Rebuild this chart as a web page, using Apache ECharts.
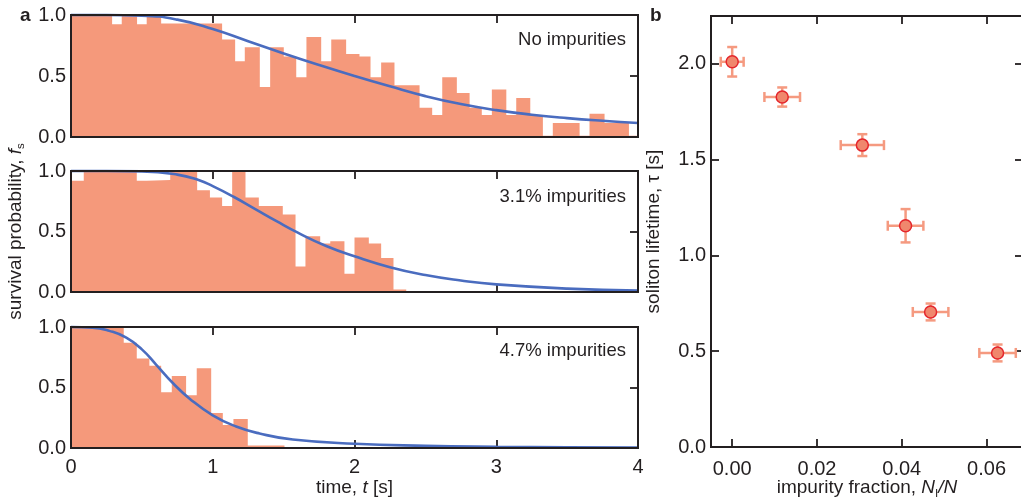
<!DOCTYPE html>
<html><head><meta charset="utf-8">
<script src="https://cdn.jsdelivr.net/npm/echarts@6/dist/echarts.min.js"></script>
<style>html,body{margin:0;padding:0;background:#fff}#c{width:1021px;height:500px}</style>
</head><body><div id="c"></div>
<script>
// ---------- Panel a : survival histograms (bin start times, heights, end time) ----------
const binStart1 = [0, 0.29, 0.358, 0.466, 0.534, 0.636, 1.066, 1.158, 1.226, 1.332, 1.405, 1.501, 1.589, 1.661, 1.765, 1.836, 1.941, 2.035, 2.113, 2.188, 2.282, 2.459, 2.548, 2.619, 2.722, 2.812, 2.898, 2.969, 3.071, 3.141, 3.240, 3.329, 3.399, 3.588, 3.658, 3.764, 3.936];
const binHeight1 = [1.0, 0.924, 1.0, 0.924, 0.99, 0.93, 0.80, 0.62, 0.735, 0.41, 0.735, 0.66, 0.49, 0.82, 0.62, 0.80, 0.68, 0.66, 0.49, 0.61, 0.425, 0.24, 0.18, 0.49, 0.36, 0.24, 0.18, 0.39, 0.18, 0.32, 0.18, 0.01, 0.115, 0.01, 0.19, 0.115, 0.01];
const binEnd1 = 4.0;

const binStart2 = [0, 0.09, 0.464, 0.534, 0.70, 0.89, 0.98, 1.066, 1.137, 1.231, 1.325, 1.494, 1.584, 1.654, 1.758, 1.829, 1.929, 2.0, 2.101, 2.188, 2.275];
const binHeight2 = [0.92, 1.0, 0.92, 0.925, 1.0, 0.84, 0.78, 0.71, 1.0, 0.78, 0.71, 0.64, 0.21, 0.46, 0.40, 0.42, 0.15, 0.45, 0.40, 0.28, 0.02];
const binEnd2 = 2.365;

const binStart3 = [0, 0.372, 0.464, 0.553, 0.636, 0.711, 0.812, 0.887, 0.989, 1.071, 1.146, 1.247];
const binHeight3 = [1.0, 0.87, 0.74, 0.68, 0.46, 0.595, 0.435, 0.66, 0.29, 0.19, 0.24, 0.02];
const binEnd3 = 1.506;

// ---------- Panel a : fitted survival curves ----------
const fitT1 = [0, 0.25, 0.5, 0.75, 1.0, 1.25, 1.5, 1.75, 2.0, 2.25, 2.5, 2.75, 3.0, 3.25, 3.5, 3.75, 4.0];
const fitF1 = [1.0, 1.0, 0.995, 0.962, 0.885, 0.785, 0.685, 0.59, 0.50, 0.415, 0.335, 0.27, 0.22, 0.183, 0.155, 0.133, 0.115];
const fitT2 = [0, 0.25, 0.5, 0.75, 0.9, 1.0, 1.15, 1.3, 1.45, 1.6, 1.8, 2.0, 2.25, 2.5, 2.75, 3.0, 3.5, 4.0];
const fitF2 = [1.0, 1.0, 0.997, 0.97, 0.925, 0.875, 0.785, 0.685, 0.585, 0.49, 0.38, 0.295, 0.205, 0.14, 0.095, 0.063, 0.028, 0.012];
const fitT3 = [0, 0.15, 0.27, 0.39, 0.5, 0.6, 0.72, 0.835, 1.0, 1.165, 1.33, 1.565, 2.0, 2.5, 3.0, 3.5, 4.0];
const fitF3 = [1.0, 0.995, 0.968, 0.912, 0.815, 0.69, 0.535, 0.41, 0.27, 0.178, 0.12, 0.07, 0.035, 0.018, 0.01, 0.006, 0.004];

const panelLabels = ['No impurities', '3.1% impurities', '4.7% impurities'];
const timeTicks = [0, 1, 2, 3, 4];

// ---------- Panel b : soliton lifetime vs impurity fraction ----------
const fraction = [0.0, 0.0118, 0.0307, 0.0409, 0.0468, 0.0626];
const fractionErr = [0.0027, 0.0042, 0.0051, 0.0042, 0.0042, 0.0043];
const lifetime = [2.011, 1.827, 1.576, 1.155, 0.705, 0.491];
const lifetimeErr = [0.077, 0.05, 0.057, 0.087, 0.044, 0.044];

// ---------- styling ----------
const FONT = '"Liberation Sans", Arial, Helvetica, sans-serif';
const INK = '#231f20';
const BAR = '#f5997b';
const FIT = '#4a6cbf';
const ERR = '#f59a80';

function stepData(starts, heights, end) {
  const d = starts.map((t, i) => [t, heights[i]]);
  d.push([end, heights[heights.length - 1]]);
  return d;
}
function pairs(xs, ys) { return xs.map((x, i) => [x, ys[i]]); }

const nameRich = {
  n: { fontFamily: FONT, fontSize: 19, color: INK, lineHeight: 24 },
  i: { fontFamily: FONT, fontSize: 19, color: INK, fontStyle: 'italic', lineHeight: 24 },
  s: { fontFamily: FONT, fontSize: 11.5, color: INK, lineHeight: 11, verticalAlign: 'bottom' }
};
const tick = { show: true, inside: true, length: 8, lineStyle: { color: INK, width: 1.8 } };
const lab = { color: INK, fontFamily: FONT, fontSize: 20 };
const noLine = { show: false, onZero: false };

const grids = [
  { left: 71, top: 15, width: 567, height: 122 },
  { left: 71, top: 171, width: 567, height: 121 },
  { left: 71, top: 327, width: 567, height: 121 },
  { left: 711, top: 16, width: 312, height: 431 }
].map(g => Object.assign(g, { show: true, borderColor: INK, borderWidth: 2, backgroundColor: 'transparent',
  z: 10, containLabel: false, outerBoundsMode: 'none' }));

const xAxes = [], yAxes = [];
for (let i = 0; i < 3; i++) {
  const base = { gridIndex: i, type: 'value', min: timeTicks[0], max: timeTicks[timeTicks.length - 1], interval: 1,
    axisLine: noLine, axisTick: tick, splitLine: { show: false } };
  xAxes.push(Object.assign({}, base, {
    position: 'bottom',
    axisLabel: i === 2 ? Object.assign({ margin: 9, formatter: v => String(v) }, lab) : { show: false },
    name: i === 2 ? '{n|time, }{i|t}{n| [s]}' : '', nameLocation: 'middle', nameGap: 28,
    nameTextStyle: { rich: nameRich }
  }));
  xAxes.push(Object.assign({}, base, { position: 'top', axisLabel: { show: false } }));
  const ybase = { gridIndex: i, type: 'value', min: 0, max: 1, interval: 0.5,
    axisLine: noLine, axisTick: tick, splitLine: { show: false } };
  yAxes.push(Object.assign({}, ybase, {
    position: 'left',
    axisLabel: Object.assign({ margin: 5, formatter: v => v.toFixed(1) }, lab),
    name: i === 1 ? '{n|survival probability, }{i|f}{s|s}' : '', nameLocation: 'middle', nameGap: 43,
    nameTextStyle: { rich: nameRich }
  }));
  yAxes.push(Object.assign({}, ybase, { position: 'right', axisLabel: { show: false } }));
}
// panel b axes
const bx = { gridIndex: 3, type: 'value', min: -0.005, max: 0.0686, splitNumber: 4,
  axisLine: noLine, axisTick: tick, splitLine: { show: false } };
xAxes.push(Object.assign({}, bx, {
  position: 'bottom',
  axisLabel: Object.assign({ margin: 12, showMinLabel: false, showMaxLabel: false,
    formatter: v => (Math.abs(v / 0.02 - Math.round(v / 0.02)) < 1e-6 ? v.toFixed(2) : '') }, lab),
  name: '{n|impurity fraction, }{i|N}{s|I}{i|/N}', nameLocation: 'middle', nameGap: 29,
  nameMoveOverlap: false,
  nameTextStyle: { rich: nameRich }
}));
xAxes.push(Object.assign({}, bx, { position: 'top', axisLabel: { show: false } }));
const by = { gridIndex: 3, type: 'value', min: 0, max: 2.25, interval: 0.5,
  axisLine: noLine, axisTick: tick, splitLine: { show: false } };
yAxes.push(Object.assign({}, by, {
  position: 'left',
  axisLabel: Object.assign({ margin: 5, showMaxLabel: false,
    formatter: v => (Math.abs(v / 0.5 - Math.round(v / 0.5)) < 1e-6 ? v.toFixed(1) : '') }, lab),
  name: '{n|soliton lifetime, τ [s]}', nameLocation: 'middle', nameGap: 45,
  nameTextStyle: { rich: nameRich }
}));
yAxes.push(Object.assign({}, by, { position: 'right', axisLabel: { show: false } }));

const series = [];
const bins = [[binStart1, binHeight1, binEnd1], [binStart2, binHeight2, binEnd2], [binStart3, binHeight3, binEnd3]];
const fits = [[fitT1, fitF1], [fitT2, fitF2], [fitT3, fitF3]];
for (let i = 0; i < 3; i++) {
  series.push({ type: 'line', xAxisIndex: 2 * i, yAxisIndex: 2 * i, data: stepData(...bins[i]),
    step: 'end', symbol: 'none', lineStyle: { width: 0 }, areaStyle: { color: BAR, opacity: 1 },
    itemStyle: { color: BAR }, silent: true, z: 2 });
  series.push({ type: 'line', xAxisIndex: 2 * i, yAxisIndex: 2 * i, data: pairs(...fits[i]),
    smooth: 0.5, symbol: 'none', clip: false,
    lineStyle: { color: FIT, width: 2.6 }, silent: true, z: 3 });
}
series.push({
  type: 'custom', xAxisIndex: 6, yAxisIndex: 6, z: 3, silent: true,
  data: fraction.map((x, i) => [x, lifetime[i], fractionErr[i], lifetimeErr[i]]),
  renderItem: function (params, api) {
    const x = api.value(0), y = api.value(1), ex = api.value(2), ey = api.value(3);
    const l = api.coord([x - ex, y]), r = api.coord([x + ex, y]);
    const t = api.coord([x, y + ey]), b = api.coord([x, y - ey]);
    const cap = 5;
    const st = { stroke: ERR, lineWidth: 2.5 };
    const ln = (x1, y1, x2, y2) => ({ type: 'line', shape: { x1, y1, x2, y2 }, style: st });
    return { type: 'group', children: [
      ln(l[0], l[1], r[0], r[1]), ln(t[0], t[1], b[0], b[1]),
      ln(l[0], l[1] - cap, l[0], l[1] + cap), ln(r[0], r[1] - cap, r[0], r[1] + cap),
      ln(t[0] - cap, t[1], t[0] + cap, t[1]), ln(b[0] - cap, b[1], b[0] + cap, b[1])
    ] };
  }
});
series.push({ type: 'scatter', xAxisIndex: 6, yAxisIndex: 6, data: pairs(fraction, lifetime),
  symbolSize: 12, itemStyle: { color: '#f0876d', borderColor: '#e4262c', borderWidth: 1.5, opacity: 1 }, z: 4 });

const txt = (x, y, text, extra) => ({ type: 'text', x, y, z: 20,
  style: Object.assign({ text, fill: INK, font: '18.5px ' + FONT, align: 'right', verticalAlign: 'middle' }, extra || {}) });

const option = {
  animation: false,
  backgroundColor: '#fff',
  grid: grids, xAxis: xAxes, yAxis: yAxes, series: series,
  graphic: [
    txt(626, 40, panelLabels[0]),
    txt(626, 197, panelLabels[1]),
    txt(626, 351, panelLabels[2]),
    txt(20, 16, 'a', { align: 'left', font: 'bold 19px ' + FONT }),
    txt(650, 16, 'b', { align: 'left', font: 'bold 19px ' + FONT })
  ]
};
const chart = echarts.init(document.getElementById('c'), null, { renderer: 'canvas' });
chart.setOption(option);
</script></body></html>
